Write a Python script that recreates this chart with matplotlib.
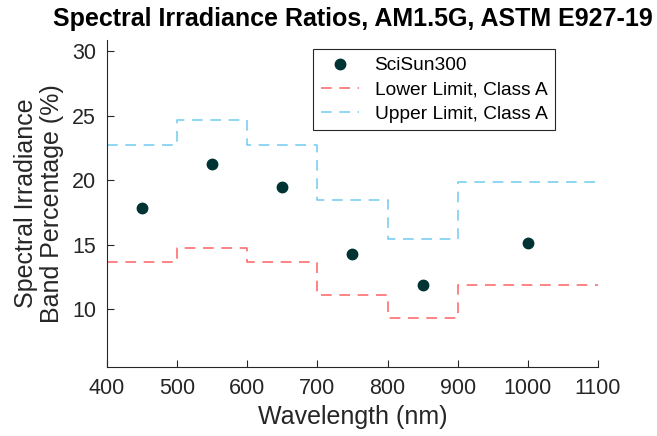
import numpy as np
import matplotlib
matplotlib.use('Agg')
from matplotlib import pyplot as plt

plt.rcParams['font.family'] = ['Liberation Sans', 'DejaVu Sans']

# band edges (nm) and class A limits (%)
band_edges = [400, 500, 600, 700, 800, 900, 1100]
lower_limit = [13.64, 14.75, 13.64, 11.1, 9.3, 11.87]
upper_limit = [22.7, 24.65, 22.7, 18.45, 15.45, 19.84]

# measured band centers and values
sun_wl = [450, 550, 650, 750, 850, 1000]
sun_pct = [17.8, 21.25, 19.45, 14.25, 11.9, 15.1]

fig = plt.figure(figsize=(6.57, 4.36), dpi=100)
ax = fig.add_axes([0.163, 0.158, 0.747, 0.75])

ax.plot(sun_wl, sun_pct, 'o', color='#003333', markersize=7.5, label='SciSun300', zorder=3)
ax.step(band_edges, lower_limit + [lower_limit[-1]], where='post', color='#ff3b3b',
        alpha=0.8, linestyle=(0, (7, 5)), linewidth=1.1, label='Lower Limit, Class A')
ax.step(band_edges, upper_limit + [upper_limit[-1]], where='post', color='#4dbdea',
        alpha=0.8, linestyle=(0, (7, 5)), linewidth=1.1, label='Upper Limit, Class A')

ax.set_xlim(400, 1100)
ax.set_ylim(5.5, 30.85)
ax.set_xticks(np.arange(400, 1101, 100))
ax.set_yticks([10, 15, 20, 25, 30])
ax.tick_params(direction='in', labelsize=15.5, colors='#262626', length=5, pad=8)
for s in ['top', 'right']:
    ax.spines[s].set_visible(False)
for s in ['left', 'bottom']:
    ax.spines[s].set_color('#262626')

ax.set_xlabel('Wavelength (nm)', fontsize=18, color='#262626', labelpad=4)
ax.set_ylabel('Spectral Irradiance\nBand Percentage (%)', fontsize=18, color='#262626',
              linespacing=1.1, labelpad=6)
ax.set_title('Spectral Irradiance Ratios, AM1.5G, ASTM E927-19', fontsize=18,
             fontweight='bold', pad=10)

leg = ax.legend(loc='upper left', bbox_to_anchor=(0.42, 0.972), fontsize=13.8,
                fancybox=False, edgecolor='#262626', framealpha=1, borderpad=0.4,
                handlelength=2.0, labelspacing=0.35, borderaxespad=0)
leg.get_frame().set_linewidth(0.8)

plt.savefig('out.png')
plt.close('all')
